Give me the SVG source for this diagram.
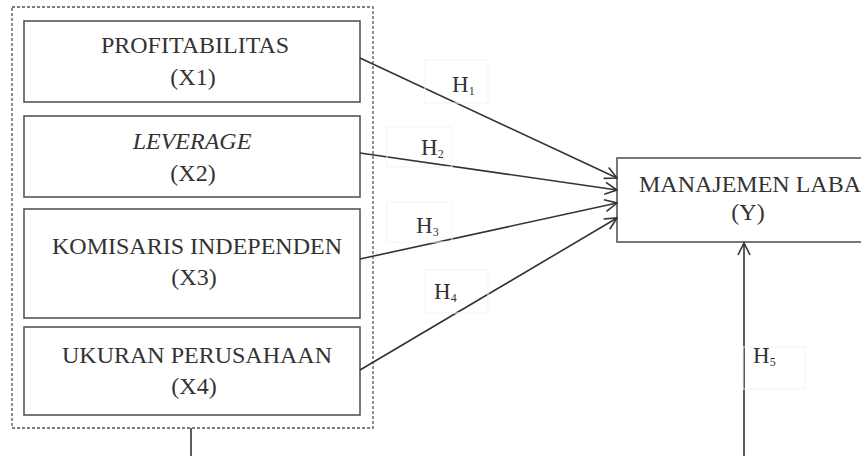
<svg xmlns="http://www.w3.org/2000/svg" width="861" height="456" viewBox="0 0 861 456">
<defs>
<style>
.box{fill:#fff;stroke:#555;stroke-width:1.6}
.dash{fill:none;stroke:#555;stroke-width:1.3;stroke-dasharray:3,2}
.t{font-family:"Liberation Serif","Times New Roman",serif;font-size:24px;fill:#333;text-anchor:middle}
.h{font-family:"Liberation Serif","Times New Roman",serif;font-size:23px;fill:#333}
.sub{font-size:12px}
.lb{fill:none;stroke:#f4f4f4;stroke-width:1}
.c{fill:none;stroke:#333;stroke-width:1.6}
</style>
<marker id="arr" viewBox="-13 -7 14 14" refX="0" refY="0" markerWidth="14" markerHeight="14" markerUnits="userSpaceOnUse" orient="auto">
<path d="M-12,-6 L0,0 L-12,6" fill="none" stroke="#333" stroke-width="1.6"/>
</marker>
</defs>
<rect width="861" height="456" fill="#fff"/>
<g id="group-x">
<rect class="dash" x="12" y="7" width="361" height="421"/>
</g>
<g id="x1">
<rect class="box" x="24" y="21" width="336" height="81"/>
<text class="t" x="195" y="53">PROFITABILITAS</text>
<text class="t" x="193" y="85">(X1)</text>
</g>
<g id="x2">
<rect class="box" x="24" y="116" width="336" height="81"/>
<text class="t" x="192" y="149" font-style="italic">LEVERAGE</text>
<text class="t" x="193" y="181">(X2)</text>
</g>
<g id="x3">
<rect class="box" x="24" y="209" width="336" height="109"/>
<text class="t" x="197" y="254">KOMISARIS INDEPENDEN</text>
<text class="t" x="194" y="285">(X3)</text>
</g>
<g id="x4">
<rect class="box" x="24" y="327" width="336" height="88"/>
<text class="t" x="197" y="363">UKURAN PERUSAHAAN</text>
<text class="t" x="194" y="394">(X4)</text>
</g>
<g id="y">
<rect class="box" x="617" y="158" width="264" height="84"/>
<text class="t" x="750" y="192">MANAJEMEN LABA</text>
<text class="t" x="748" y="220">(Y)</text>
</g>
<g id="connectors">
<line class="c" x1="360" y1="58" x2="617" y2="178" marker-end="url(#arr)"/>
<line class="c" x1="360" y1="153" x2="617" y2="190" marker-end="url(#arr)"/>
<line class="c" x1="360" y1="259" x2="617" y2="203" marker-end="url(#arr)"/>
<line class="c" x1="360" y1="370" x2="617" y2="218" marker-end="url(#arr)"/>
<line class="c" x1="191" y1="428" x2="191" y2="456"/>
<line class="c" x1="744" y1="456" x2="744" y2="243" marker-end="url(#arr)"/>
</g>
<g id="labels">
<rect class="lb" x="425" y="60" width="63" height="43"/>
<text class="h" x="452" y="92">H<tspan class="sub" dy="3">1</tspan></text>
<rect class="lb" x="387" y="127" width="65" height="40"/>
<text class="h" x="421" y="155">H<tspan class="sub" dy="3">2</tspan></text>
<rect class="lb" x="387" y="202" width="65" height="40"/>
<text class="h" x="416" y="233">H<tspan class="sub" dy="3">3</tspan></text>
<rect class="lb" x="425" y="270" width="63" height="43"/>
<text class="h" x="434" y="299">H<tspan class="sub" dy="3">4</tspan></text>
<rect class="lb" x="743" y="347" width="62" height="42"/>
<text class="h" x="753" y="363">H<tspan class="sub" dy="3">5</tspan></text>
</g>
</svg>
